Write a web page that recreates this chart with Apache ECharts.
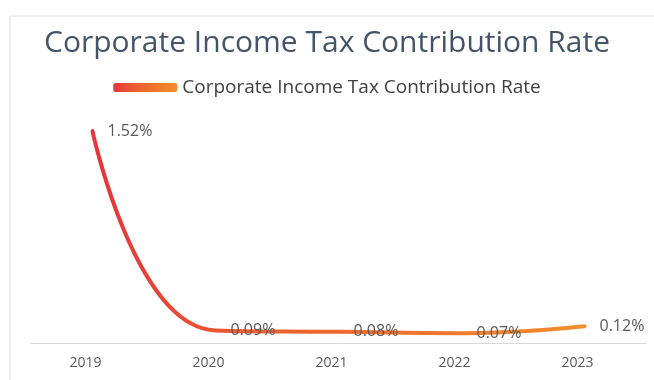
<!DOCTYPE html>
<html><head><meta charset="utf-8">
<script src="https://cdn.jsdelivr.net/npm/echarts@6/dist/echarts.min.js"></script>
<style>html,body{margin:0;padding:0;background:#fff}#c{width:654px;height:380px}</style>
</head><body><div id="c"></div>
<script>
const titleText = 'Corporate Income Tax Contribution Rate';
const seriesName = 'Corporate Income Tax Contribution Rate';
const years = ['2019', '2020', '2021', '2022', '2023'];
const rates = [1.52, 0.09, 0.08, 0.07, 0.12];

const chart = echarts.init(document.getElementById('c'));
const grad = new echarts.graphic.LinearGradient(0, 0, 1, 0, [
  {offset: 0, color: '#e5333b'},
  {offset: 0.3, color: '#ec5a30'},
  {offset: 1, color: '#f28e2c'}
]);
chart.setOption({
  backgroundColor: '#fff',
  graphic: [{
    type: 'rect', shape: {x: 10, y: 16, width: 700, height: 400},
    style: {fill: 'none', stroke: '#e0e0e0', lineWidth: 1}, silent: true, z: -1
  }],
  title: {
    text: titleText, left: 'center', top: 23,
    textStyle: {fontFamily: 'Open Sans', fontWeight: 'normal', fontSize: 30, color: '#44546a'}
  },
  legend: {
    top: 73, left: 'center',
    icon: 'roundRect', itemWidth: 64, itemHeight: 9, itemGap: 10,
    textStyle: {fontFamily: 'Open Sans', fontSize: 19, color: '#404040'},
    data: [{name: seriesName, itemStyle: {color: grad}}]
  },
  grid: {left: 31, right: 8, top: 120, bottom: 37},
  xAxis: {
    type: 'category', data: years, boundaryGap: true,
    axisLine: {lineStyle: {color: '#d9d9d9', width: 1}},
    axisTick: {show: false},
    axisLabel: {fontFamily: 'Open Sans', fontSize: 14, color: '#595959', margin: 13, padding: [0, 14, 0, 0]}
  },
  yAxis: {type: 'value', min: 0, max: 1.6, show: false, splitLine: {show: false}},
  series: [{
    name: seriesName, type: 'line', data: rates, smooth: 0.5,
    symbol: 'circle', symbolSize: 0.01, showSymbol: true,
    lineStyle: {width: 4, color: grad, cap: 'round'},
    itemStyle: {color: grad},
    label: {
      show: true, position: 'right', distance: 15,
      formatter: p => p.value.toFixed(2) + '%',
      fontFamily: 'Open Sans', fontSize: 16, color: '#595959'
    }
  }]
});
</script></body></html>
